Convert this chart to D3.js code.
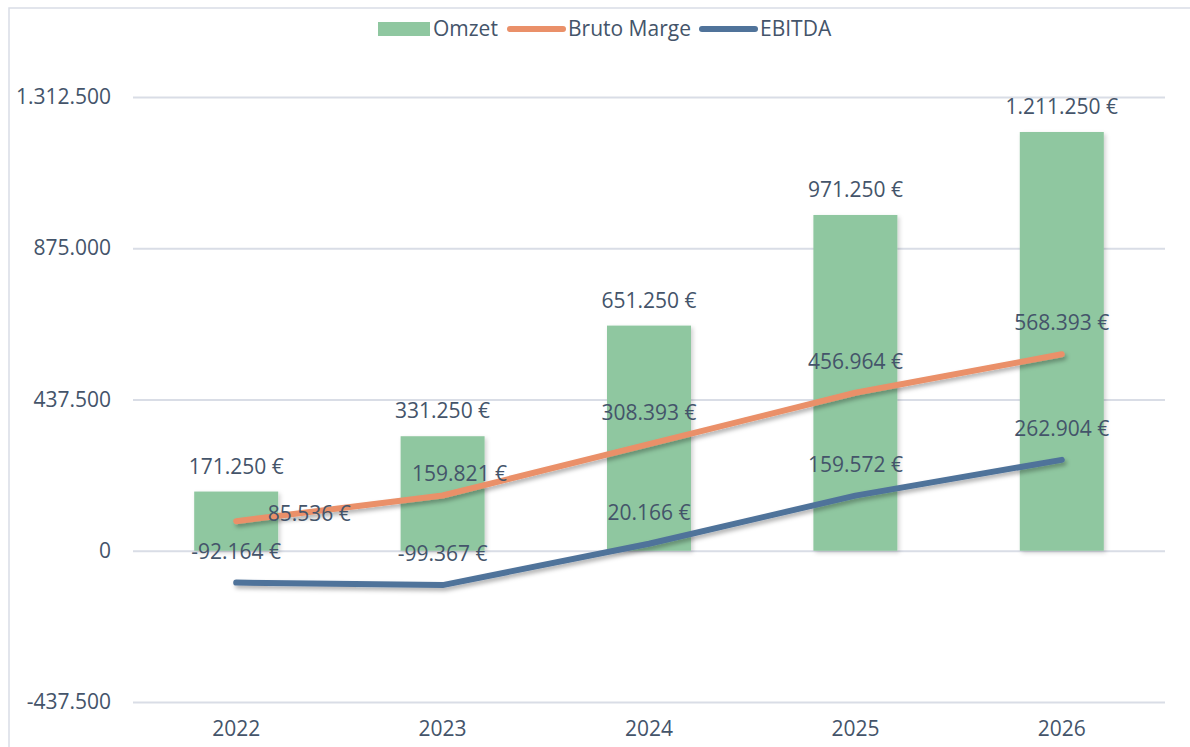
<!DOCTYPE html>
<html>
<head>
<meta charset="utf-8">
<script src="https://cdn.jsdelivr.net/npm/d3@7"></script>
<style>
  body { margin: 0; background: #fff; }
  svg text { font-family: "Open Sans", sans-serif; fill: #44546A; }
</style>
</head>
<body>
<svg id="chart" width="1190" height="747"></svg>
<script>
// data
var years = ["2022", "2023", "2024", "2025", "2026"];
var omzet = [171250, 331250, 651250, 971250, 1211250];
var brutoMarge = [85536, 159821, 308393, 456964, 568393];
var ebitda = [-92164, -99367, 20166, 159572, 262904];
var yTicks = [-437500, 0, 437500, 875000, 1312500];
var seriesNames = ["Omzet", "Bruto Marge", "EBITDA"];

// label nudges for the first two Bruto Marge labels (moved by hand in the original)
var brutoLabelDx = [73, 17, 0, 0, 0];
var brutoLabelDy = [24, 10, 0, 0, 0];

var colors = { omzet: "#8FC7A0", bruto: "#EA9069", ebitda: "#50739A" };

var svg = d3.select("#chart");
var width = 1190, height = 747;
var margin = { left: 133, right: 25, top: 97, bottom: 45 };
var fontSize = 21;

// chart area border
svg.append("rect")
    .attr("x", 9).attr("y", 8)
    .attr("width", width + 10).attr("height", height + 10)
    .attr("fill", "none")
    .attr("stroke", "#D9DDE6")
    .attr("stroke-width", 1.5);

var defs = svg.append("defs");
var shadow = defs.append("filter").attr("id", "shadow")
    .attr("x", "-10%").attr("y", "-20%").attr("width", "130%").attr("height", "150%");
shadow.append("feDropShadow")
    .attr("dx", 2).attr("dy", 3).attr("stdDeviation", 2)
    .attr("flood-color", "#000").attr("flood-opacity", 0.3);
var barShadow = defs.append("filter").attr("id", "barShadow")
    .attr("x", "-10%").attr("y", "-10%").attr("width", "130%").attr("height", "130%");
barShadow.append("feDropShadow")
    .attr("dx", 2).attr("dy", 2).attr("stdDeviation", 2)
    .attr("flood-color", "#000").attr("flood-opacity", 0.18);

var x = d3.scaleBand()
    .domain(years)
    .range([margin.left, width - margin.right])
    .paddingInner(0.6).paddingOuter(0.3);

var xc = function (d) { return x(d) + x.bandwidth() / 2; };

var y = d3.scaleLinear()
    .domain([-437500, 1312500])
    .range([702, 97]);

var fmt = d3.formatLocale({ decimal: ",", thousands: ".", grouping: [3], currency: ["", " €"], minus: "-" });
var num = fmt.format(",d");
var eur = function (v) { return num(v) + " €"; };

// gridlines + y axis
var yAxis = d3.axisLeft(y)
    .tickValues(yTicks)
    .tickSize(-(width - margin.right - margin.left))
    .tickPadding(22)
    .tickFormat(function (d) { return num(d); });

var gy = svg.append("g")
    .attr("transform", "translate(" + margin.left + ",0)")
    .call(yAxis);
gy.select(".domain").remove();
gy.selectAll(".tick line").attr("stroke", "#D9DDE6").attr("stroke-width", 2);
gy.selectAll(".tick text").attr("font-size", fontSize).attr("fill", "#44546A");

// x axis labels
var xAxis = d3.axisBottom(x).tickSize(0).tickPadding(0);
var gx = svg.append("g")
    .attr("transform", "translate(0,720)")
    .call(xAxis);
gx.select(".domain").remove();
gx.selectAll(".tick text").attr("font-size", fontSize).attr("fill", "#44546A").attr("dy", "0.78em");

// bars
var barW = 84;
svg.append("g").selectAll("rect")
    .data(omzet)
    .enter().append("rect")
    .attr("x", function (d, i) { return xc(years[i]) - barW / 2; })
    .attr("y", function (d) { return y(d); })
    .attr("width", barW)
    .attr("height", function (d) { return y(0) - y(d); })
    .attr("fill", colors.omzet)
    .attr("filter", "url(#barShadow)");

// lines
var line = d3.line()
    .x(function (d, i) { return xc(years[i]); })
    .y(function (d) { return y(d); });

[[brutoMarge, colors.bruto], [ebitda, colors.ebitda]].forEach(function (s) {
    svg.append("path")
        .datum(s[0])
        .attr("d", line)
        .attr("fill", "none")
        .attr("stroke", s[1])
        .attr("stroke-width", 6)
        .attr("stroke-linecap", "round")
        .attr("stroke-linejoin", "round")
        .attr("filter", "url(#shadow)");
});

// data labels
var labels = svg.append("g").attr("font-size", fontSize).attr("text-anchor", "middle");

labels.selectAll(".lbl-omzet")
    .data(omzet)
    .enter().append("text")
    .attr("x", function (d, i) { return xc(years[i]); })
    .attr("y", function (d) { return y(d) - 18; })
    .text(eur);

labels.selectAll(".lbl-bruto")
    .data(brutoMarge)
    .enter().append("text")
    .attr("x", function (d, i) { return xc(years[i]) + brutoLabelDx[i]; })
    .attr("y", function (d, i) { return y(d) - 24 + brutoLabelDy[i]; })
    .text(eur);

labels.selectAll(".lbl-ebitda")
    .data(ebitda)
    .enter().append("text")
    .attr("x", function (d, i) { return xc(years[i]); })
    .attr("y", function (d) { return y(d) - 24; })
    .text(eur);

// legend
var legend = svg.append("g").attr("font-size", fontSize);
var lx = [378, 508, 700];
var swatchW = [52, 57, 57];
seriesNames.forEach(function (name, i) {
    var g = legend.append("g").attr("transform", "translate(" + lx[i] + ",29)");
    if (i === 0) {
        g.append("rect").attr("x", 0).attr("y", -7).attr("width", swatchW[i]).attr("height", 14)
            .attr("fill", colors.omzet);
    } else {
        g.append("line").attr("x1", 2).attr("x2", swatchW[i] - 2)
            .attr("stroke", i === 1 ? colors.bruto : colors.ebitda)
            .attr("stroke-width", 6).attr("stroke-linecap", "round");
    }
    g.append("text").attr("x", swatchW[i] + 3).attr("y", 0).attr("dy", "0.35em").text(name);
});
</script>
</body>
</html>
